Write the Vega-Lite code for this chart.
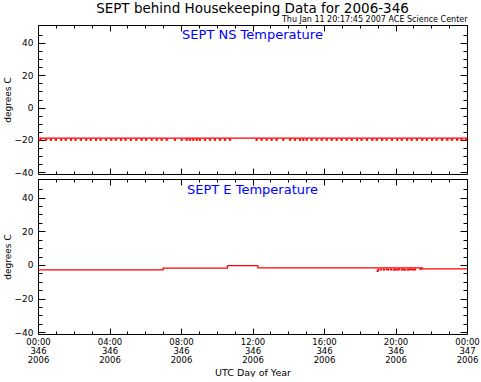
{
  "$schema": "https://vega.github.io/schema/vega-lite/v6.json",
  "padding": {"left": 3, "top": 2, "right": 14, "bottom": 0},
  "background": "white",
  "title": {"text": "SEPT behind Housekeeping Data for 2006-346", "fontSize": 13.5, "font": "DejaVu Sans", "fontWeight": "normal", "anchor": "middle", "offset": 0, "frame": "group", "color": "black"},
  "config": {
    "font": "DejaVu Sans",
    "view": {"stroke": null},
    "title": {"fontWeight": "normal"},
    "axis": {"grid": false, "domainColor": "black", "tickColor": "black", "labelColor": "black", "titleColor": "black", "labelFont": "DejaVu Sans", "titleFont": "DejaVu Sans", "labelFontSize": 9, "titleFontWeight": "normal", "titleFontSize": 9, "domainWidth": 1, "tickWidth": 1, "labelOverlap": false, "labelFlush": false, "labelBound": false}
  },
  "datasets": {
    "ns": [{"i": 0, "hour": 0, "temp": -18.8}, {"i": 1, "hour": 6, "temp": -18.8}, {"i": 2, "hour": 12, "temp": -18.8}, {"i": 3, "hour": 18, "temp": -18.8}, {"i": 4, "hour": 24, "temp": -18.8}],
    "nsdots": [
      {"hour": 0.15, "temp": -19.8}, {"hour": 0.45, "temp": -19.8}, {"hour": 0.72, "temp": -19.8}, {"hour": 1.0, "temp": -19.8}, {"hour": 1.3, "temp": -19.8}, {"hour": 1.55, "temp": -19.8}, {"hour": 1.85, "temp": -19.8}, {"hour": 2.1, "temp": -19.8}, {"hour": 2.4, "temp": -19.8}, {"hour": 2.7, "temp": -19.8}, {"hour": 2.95, "temp": -19.8}, {"hour": 3.25, "temp": -19.8}, {"hour": 3.5, "temp": -19.8}, {"hour": 3.8, "temp": -19.8}, {"hour": 4.1, "temp": -19.8}, {"hour": 4.35, "temp": -19.8}, {"hour": 4.65, "temp": -19.8}, {"hour": 4.9, "temp": -19.8}, {"hour": 5.2, "temp": -19.8}, {"hour": 5.5, "temp": -19.8}, {"hour": 5.8, "temp": -19.8}, {"hour": 6.05, "temp": -19.8}, {"hour": 6.36, "temp": -19.8}, {"hour": 6.64, "temp": -19.8}, {"hour": 6.92, "temp": -19.8}, {"hour": 7.2, "temp": -19.8}, {"hour": 7.66, "temp": -19.8}, {"hour": 8.04, "temp": -19.8}, {"hour": 8.32, "temp": -19.8}, {"hour": 8.5, "temp": -19.8}, {"hour": 8.69, "temp": -19.8}, {"hour": 8.88, "temp": -19.8}, {"hour": 9.06, "temp": -19.8}, {"hour": 9.34, "temp": -19.8}, {"hour": 9.62, "temp": -19.8}, {"hour": 9.9, "temp": -19.8}, {"hour": 10.18, "temp": -19.8}, {"hour": 10.46, "temp": -19.8}, {"hour": 10.74, "temp": -19.8},
      {"hour": 12.23, "temp": -19.8}, {"hour": 12.51, "temp": -19.8}, {"hour": 12.79, "temp": -19.8}, {"hour": 13.07, "temp": -19.8}, {"hour": 13.35, "temp": -19.8}, {"hour": 13.72, "temp": -19.8}, {"hour": 14.1, "temp": -19.8}, {"hour": 14.38, "temp": -19.8}, {"hour": 14.66, "temp": -19.8}, {"hour": 14.84, "temp": -19.8}, {"hour": 15.03, "temp": -19.8}, {"hour": 15.31, "temp": -19.8}, {"hour": 15.59, "temp": -19.8}, {"hour": 15.87, "temp": -19.8}, {"hour": 16.15, "temp": -19.8}, {"hour": 16.43, "temp": -19.8}, {"hour": 16.71, "temp": -19.8}, {"hour": 16.99, "temp": -19.8}, {"hour": 17.27, "temp": -19.8}, {"hour": 17.55, "temp": -19.8}, {"hour": 17.85, "temp": -19.8}, {"hour": 18.1, "temp": -19.8}, {"hour": 18.4, "temp": -19.8}, {"hour": 18.7, "temp": -19.8}, {"hour": 18.95, "temp": -19.8}, {"hour": 19.25, "temp": -19.8}, {"hour": 19.5, "temp": -19.8}, {"hour": 19.8, "temp": -19.8}, {"hour": 20.1, "temp": -19.8}, {"hour": 20.35, "temp": -19.8}, {"hour": 20.65, "temp": -19.8}, {"hour": 20.9, "temp": -19.8}, {"hour": 21.2, "temp": -19.8}, {"hour": 21.5, "temp": -19.8}, {"hour": 21.75, "temp": -19.8}, {"hour": 22.05, "temp": -19.8}, {"hour": 22.3, "temp": -19.8}, {"hour": 22.6, "temp": -19.8}, {"hour": 22.9, "temp": -19.8}, {"hour": 23.15, "temp": -19.8}, {"hour": 23.45, "temp": -19.8}, {"hour": 23.7, "temp": -19.8}, {"hour": 23.95, "temp": -19.8}
    ],
    "e": [
      {"i": 0, "hour": 0, "temp": -2.9}, {"i": 1, "hour": 7.0, "temp": -2.9}, {"i": 2, "hour": 7.0, "temp": -1.9}, {"i": 3, "hour": 10.6, "temp": -1.9}, {"i": 4, "hour": 10.6, "temp": -0.4}, {"i": 5, "hour": 12.3, "temp": -0.4}, {"i": 6, "hour": 12.3, "temp": -1.7}, {"i": 7, "hour": 21.5, "temp": -1.7}, {"i": 8, "hour": 21.5, "temp": -2.4}, {"i": 9, "hour": 24, "temp": -2.4}
    ],
    "edots": [
      {"hour": 19.0, "temp": -3.6}, {"hour": 19.05, "temp": -2.8}, {"hour": 19.2, "temp": -2.7}, {"hour": 19.35, "temp": -2.8}, {"hour": 19.5, "temp": -2.6}, {"hour": 19.6, "temp": -2.8}, {"hour": 19.75, "temp": -2.7}, {"hour": 19.9, "temp": -2.9}, {"hour": 20.0, "temp": -2.7}, {"hour": 20.1, "temp": -2.8}, {"hour": 20.2, "temp": -2.6}, {"hour": 20.35, "temp": -2.8}, {"hour": 20.45, "temp": -2.7}, {"hour": 20.55, "temp": -2.9}, {"hour": 20.7, "temp": -2.8}, {"hour": 20.8, "temp": -2.7}, {"hour": 20.9, "temp": -2.6}, {"hour": 21.0, "temp": -2.8}, {"hour": 21.1, "temp": -2.7}, {"hour": 21.4, "temp": -2.5}
    ]
  },
  "spacing": 0,
  "vconcat": [
    {
      "width": 429,
      "height": 149,
      "title": {"text": "SEPT NS Temperature", "color": "#0000ff", "fontSize": 13, "fontWeight": "normal", "anchor": "middle", "offset": -26, "frame": "group"},
      "layer": [
        {
          "data": {"name": "ns"},
          "mark": {"type": "line", "color": "#ff0000", "strokeWidth": 1.3},
          "encoding": {
            "order": {"field": "i", "type": "quantitative"},
            "x": {"field": "hour", "type": "quantitative", "scale": {"domain": [0, 24], "nice": false, "zero": false},
              "axis": {"orient": "bottom", "values": [0,1,2,3,4,5,6,7,8,9,10,11,12,13,14,15,16,17,18,19,20,21,22,23,24], "labels": false, "title": null,
                "tickSize": {"condition": {"test": "datum.value % 4 === 0", "value": -6}, "value": -3}}},
            "y": {"field": "temp", "type": "quantitative", "scale": {"domain": [-41, 51], "nice": false, "zero": false},
              "axis": {"orient": "left", "values": [-40,-35,-30,-25,-20,-15,-10,-5,0,5,10,15,20,25,30,35,40,45], "labelExpr": "datum.value % 20 === 0 ? datum.label : ''", "title": "degrees C", "labelPadding": 12, "titlePadding": 2,
                "tickSize": {"condition": {"test": "datum.value % 20 === 0", "value": -7}, "value": -4}}}
          }
        },
        {
          "data": {"name": "nsdots"},
          "mark": {"type": "square", "color": "#ff0000", "size": 5, "opacity": 1},
          "encoding": {
            "x": {"field": "hour", "type": "quantitative", "scale": {"domain": [0, 24], "nice": false, "zero": false},
              "axis": {"orient": "top", "values": [0,1,2,3,4,5,6,7,8,9,10,11,12,13,14,15,16,17,18,19,20,21,22,23,24], "labels": false, "title": "Thu Jan 11 20:17:45 2007 ACE Science Center", "titleFontSize": 8, "titleAnchor": "end", "titlePadding": 1,
                "tickSize": {"condition": {"test": "datum.value % 4 === 0", "value": -6}, "value": -3}}},
            "y": {"field": "temp", "type": "quantitative", "scale": {"domain": [-41, 51], "nice": false, "zero": false},
              "axis": {"orient": "right", "values": [-40,-35,-30,-25,-20,-15,-10,-5,0,5,10,15,20,25,30,35,40,45], "labels": false, "title": null,
                "tickSize": {"condition": {"test": "datum.value % 20 === 0", "value": -7}, "value": -4}}}
          }
        }
      ],
      "resolve": {"axis": {"x": "independent", "y": "independent"}}
    },
    {
      "width": 429,
      "height": 155,
      "title": {"text": "SEPT E Temperature", "color": "#0000ff", "fontSize": 13, "fontWeight": "normal", "anchor": "middle", "offset": -18, "frame": "group"},
      "layer": [
        {
          "data": {"name": "e"},
          "mark": {"type": "line", "color": "#ff0000", "strokeWidth": 1.3},
          "encoding": {
            "order": {"field": "i", "type": "quantitative"},
            "x": {"field": "hour", "type": "quantitative", "scale": {"domain": [0, 24], "nice": false, "zero": false},
              "axis": {"orient": "bottom", "values": [0,1,2,3,4,5,6,7,8,9,10,11,12,13,14,15,16,17,18,19,20,21,22,23,24],
                "labelExpr": "datum.value % 4 === 0 ? [(datum.value % 24 < 10 ? '0' : '') + (datum.value % 24) + ':00', datum.value < 24 ? '346' : '347', '2006'] : ''",
                "labelFontSize": 8.5, "labelLineHeight": 9, "labelPadding": 9, "title": "UTC Day of Year", "titleFontSize": 9.5, "titlePadding": 4,
                "tickSize": {"condition": {"test": "datum.value % 4 === 0", "value": -6}, "value": -3}}},
            "y": {"field": "temp", "type": "quantitative", "scale": {"domain": [-41, 51], "nice": false, "zero": false},
              "axis": {"orient": "left", "values": [-40,-35,-30,-25,-20,-15,-10,-5,0,5,10,15,20,25,30,35,40,45], "labelExpr": "datum.value % 20 === 0 ? datum.label : ''", "title": "degrees C", "labelPadding": 12, "titlePadding": 2,
                "tickSize": {"condition": {"test": "datum.value % 20 === 0", "value": -7}, "value": -4}}}
          }
        },
        {
          "data": {"name": "edots"},
          "mark": {"type": "square", "color": "#ff0000", "size": 4, "opacity": 1},
          "encoding": {
            "x": {"field": "hour", "type": "quantitative", "scale": {"domain": [0, 24], "nice": false, "zero": false},
              "axis": {"orient": "top", "values": [0,1,2,3,4,5,6,7,8,9,10,11,12,13,14,15,16,17,18,19,20,21,22,23,24], "labels": false, "title": null,
                "tickSize": {"condition": {"test": "datum.value % 4 === 0", "value": -6}, "value": -3}}},
            "y": {"field": "temp", "type": "quantitative", "scale": {"domain": [-41, 51], "nice": false, "zero": false},
              "axis": {"orient": "right", "values": [-40,-35,-30,-25,-20,-15,-10,-5,0,5,10,15,20,25,30,35,40,45], "labels": false, "title": null,
                "tickSize": {"condition": {"test": "datum.value % 20 === 0", "value": -7}, "value": -4}}}
          }
        }
      ],
      "resolve": {"axis": {"x": "independent", "y": "independent"}}
    }
  ]
}
